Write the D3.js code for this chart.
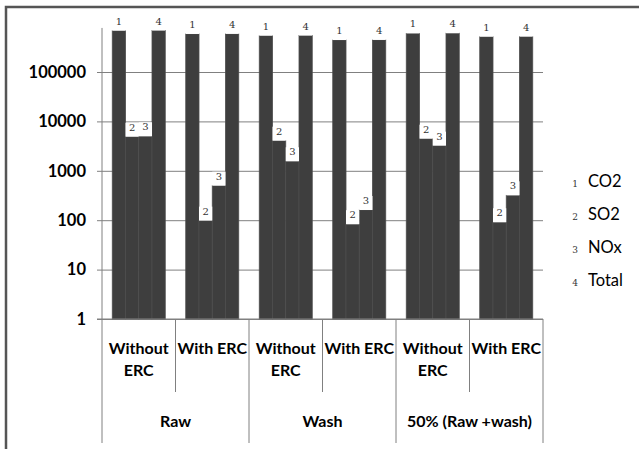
<!DOCTYPE html>
<html>
<head>
<meta charset="utf-8">
<script src="https://cdn.jsdelivr.net/npm/d3@7"></script>
<style>
html,body{margin:0;padding:0;background:#fff;}
svg{display:block;}
text{-webkit-font-smoothing:antialiased;}
</style>
</head>
<body>
<svg id="chart" width="639" height="449"></svg>
<script>
const categories = ["Without ERC","With ERC","Without ERC","With ERC","Without ERC","With ERC"];
const groups = ["Raw","Wash","50% (Raw +wash)"];
const seriesNames = ["CO2","SO2","NOx","Total"];
const seriesMarks = ["1","2","3","4"];
const co2   = [686000, 589000, 543000, 444000, 605000, 518000];
const so2   = [4900, 98, 4070, 83, 4470, 91];
const nox   = [5000, 500, 1560, 161, 3230, 319];
const total = [691000, 591000, 546000, 446000, 610000, 520000];
const yTicks = [1, 10, 100, 1000, 10000, 100000];

const series = [co2, so2, nox, total];
const svg = d3.select("#chart");

// frame
svg.append("rect").attr("x",6).attr("y",7).attr("width",700).attr("height",500)
  .attr("fill","none").attr("stroke","#555").attr("stroke-width",2.5);

const left = 102, right = 543, bottom = 319;
const x = d3.scaleBand().domain(d3.range(categories.length)).range([left, right]).padding(0);
const groupW = 53;
const xs = d3.scaleBand().domain(d3.range(4)).range([0, groupW]).padding(0);
const off = (x.bandwidth() - groupW) / 2;
const y = d3.scaleLog().domain([1, 100000]).range([bottom, 72]);

// gridlines + y axis
const yAxis = d3.axisLeft(y).tickValues(yTicks).tickFormat(d3.format("d")).tickSize(-(right-left)).tickPadding(16);
const gy = svg.append("g").attr("transform",`translate(${left},0)`).call(yAxis);
gy.select(".domain").remove();
gy.selectAll(".tick line").attr("stroke","#808080").attr("x1",-5).attr("x2",right-left);
gy.selectAll(".tick text").attr("font-family","Lato, sans-serif").attr("font-size",16.5)
  .attr("font-weight","bold").attr("fill","#000");
svg.append("line").attr("x1",left).attr("x2",left).attr("y1",y(780000)).attr("y2",bottom)
  .attr("stroke","#808080");

// bars
const g = svg.append("g");
series.forEach((vals, si) => {
  vals.forEach((v, ci) => {
    const bx = x(ci) + off + xs(si);
    const by = y(v);
    g.append("rect").attr("x",bx).attr("y",by).attr("width",xs.bandwidth()).attr("height",bottom-by)
      .attr("fill","#3e3e3e").attr("stroke","#4d4d4d").attr("stroke-width",0.8);
  });
});
// labels
series.forEach((vals, si) => {
  vals.forEach((v, ci) => {
    const bx = x(ci) + off + xs(si);
    const by = y(v);
    g.append("rect").attr("x",bx).attr("y",by-14).attr("width",xs.bandwidth()).attr("height",14)
      .attr("fill","#fff");
    g.append("text").attr("x",bx+xs.bandwidth()/2).attr("y",by-6).attr("text-anchor","middle")
      .attr("font-family","DejaVu Serif, serif").attr("font-size",10).attr("fill","#333")
      .text(seriesMarks[si]);
  });
});

// x axis table
svg.append("line").attr("x1",97).attr("x2",right).attr("y1",bottom).attr("y2",bottom).attr("stroke","#808080");
d3.range(categories.length+1).forEach(i => {
  const xx = i < categories.length ? x(i) : right;
  const full = i % 2 === 0;
  svg.append("line").attr("x1",xx).attr("x2",xx).attr("y1",bottom).attr("y2",full?443:392)
    .attr("stroke","#808080");
});
categories.forEach((c, i) => {
  const cx = x(i) + x.bandwidth()/2;
  const words = c === "Without ERC" ? ["Without","ERC"] : [c];
  words.forEach((w, k) => {
    svg.append("text").attr("x",cx).attr("y",354 + k*22).attr("text-anchor","middle")
      .attr("font-family","Lato, sans-serif").attr("font-size",16).attr("font-weight","bold")
      .attr("fill","#000").text(w);
  });
});
groups.forEach((gname, i) => {
  const cx = x(i*2) + x.bandwidth();
  svg.append("text").attr("x",cx).attr("y",427).attr("text-anchor","middle")
    .attr("font-family","Lato, sans-serif").attr("font-size",16).attr("font-weight","bold")
    .attr("fill","#000").text(gname);
});

// legend
seriesNames.forEach((n, i) => {
  const ly = 187 + i*33;
  svg.append("text").attr("x",575).attr("y",ly).attr("text-anchor","middle")
    .attr("font-family","DejaVu Serif, serif").attr("font-size",9).attr("fill","#333").text(seriesMarks[i]);
  svg.append("text").attr("x",588).attr("y",ly)
    .attr("font-family","Lato, sans-serif").attr("font-size",16.5).attr("fill","#000").text(n);
});
</script>
</body>
</html>
